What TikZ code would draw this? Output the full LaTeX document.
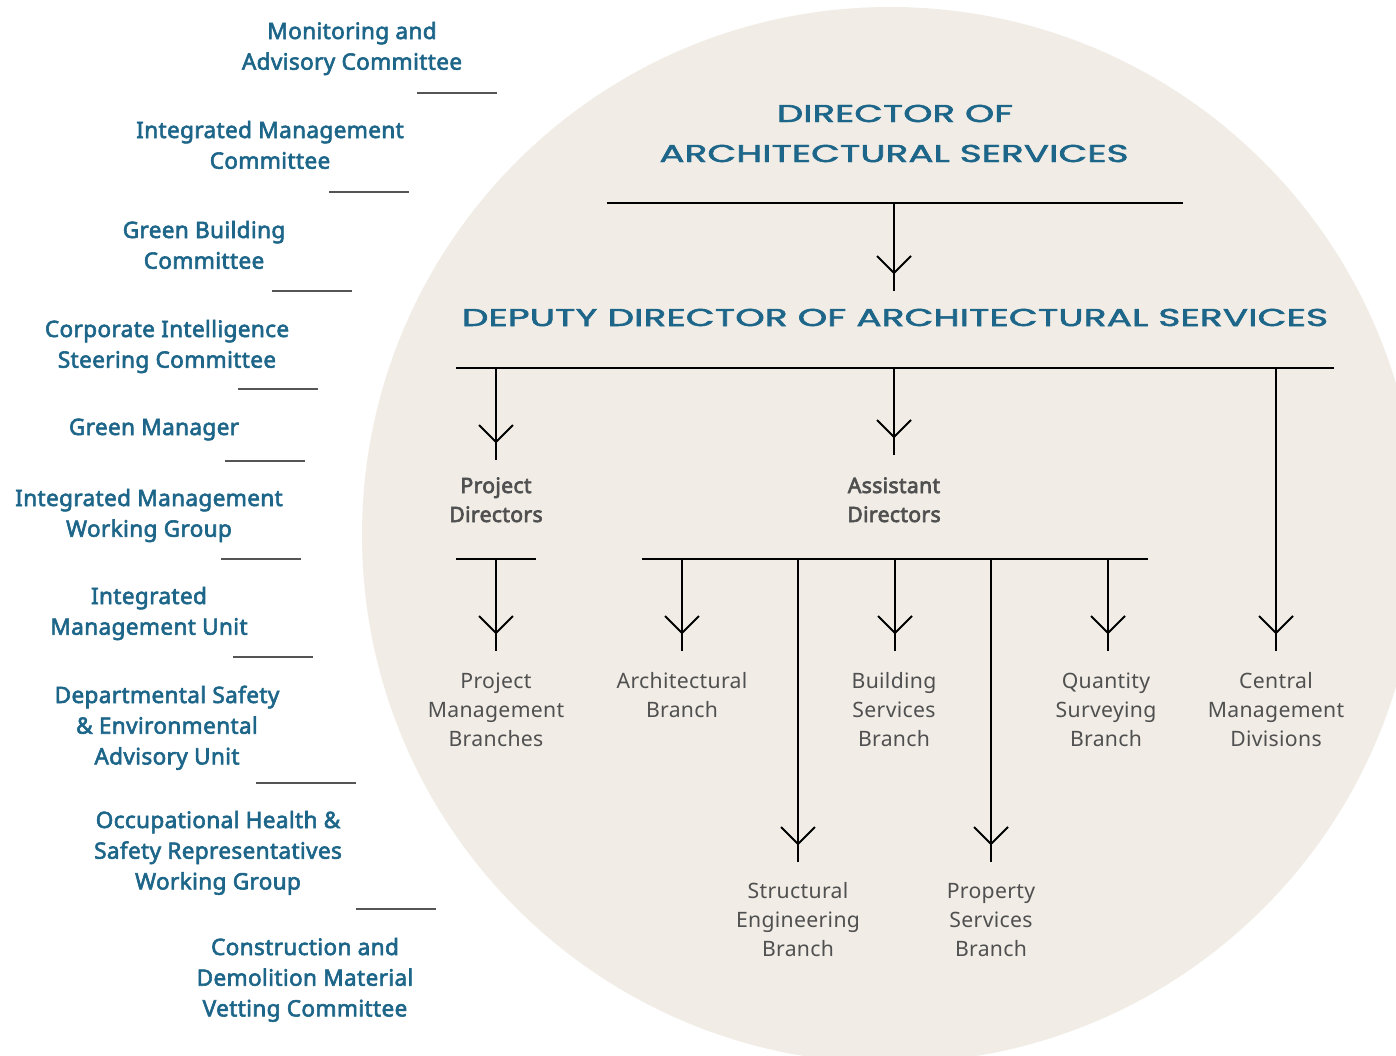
\documentclass[tikz,border=0pt]{standalone}
\usepackage{fontspec}
\usepackage{graphicx}
\usetikzlibrary{decorations.markings}
\setmainfont{Noto Sans}
\newfontfamily\medfont[FakeBold=2.6,LetterSpace=1.5]{Noto Sans}
\newfontfamily\boldfont[FakeBold=3.2,LetterSpace=1.5]{Noto Sans}
\newfontfamily\greyfont[LetterSpace=1.5]{Noto Sans}
\newfontfamily\titlefont[LetterSpace=0.5,FakeBold=2]{Poppins}
\definecolor{tealc}{HTML}{1D6689}
\definecolor{greyc}{HTML}{505050}
\definecolor{circfill}{HTML}{F1EDE6}
\definecolor{rulec}{HTML}{555555}
\newcommand{\ttl}[2]{\resizebox{#1}{8.6pt}{\titlefont #2}}
\newcommand{\ml}[1]{\begin{tabular}[t]{@{}c@{}}#1\end{tabular}}
\begin{document}
\begin{tikzpicture}[x=0.5pt,y=-0.5pt,
 side/.style={anchor=base,inner sep=0pt,text=tealc,font=\medfont\fontsize{11.3}{15.35}\selectfont},
 unitlab/.style={anchor=base,inner sep=0pt,text=greyc,font=\greyfont\fontsize{10.6}{14.5}\selectfont},
 midlab/.style={anchor=base,inner sep=0pt,text=greyc,font=\boldfont\fontsize{10.6}{14.5}\selectfont},
 headlab/.style={anchor=base,inner sep=0pt,text=tealc},
 bar/.style={line width=1pt,black},
 sideline/.style={line width=0.8pt,rulec},
 flow/.style={line width=1pt,black,postaction={decorate},
   decoration={markings,mark=at position -9pt with {\draw[line width=1pt,black] (-8.5pt,-8.5pt)--(0pt,0pt)--(-8.5pt,8.5pt);}}}
]
\clip (0,0) rectangle (1396,1055);
\fill[white] (0,0) rectangle (1396,1055);
\fill[circfill] (890,535) circle[radius=264pt];

% headings
\node[headlab] (dir1) at (895,122) {\ttl{118pt}{DIRECTOR OF}};
\node[headlab] (dir2) at (894,162) {\ttl{234.5pt}{ARCHITECTURAL SERVICES}};
\node[headlab] (dep) at (895,326) {\ttl{433pt}{DEPUTY DIRECTOR OF ARCHITECTURAL SERVICES}};

% mid labels
\node[midlab] (pd) at (496,493) {\ml{Project\\Directors}};
\node[midlab] (ad) at (894,493) {\ml{Assistant\\Directors}};

% unit labels
\node[unitlab] (pmb) at (496,688) {\ml{Project\\Management\\Branches}};
\node[unitlab] (arch) at (682,688) {\ml{Architectural\\Branch}};
\node[unitlab] (bsb) at (894,688) {\ml{Building\\Services\\Branch}};
\node[unitlab] (qsb) at (1106,688) {\ml{Quantity\\Surveying\\Branch}};
\node[unitlab] (cmd) at (1276,688) {\ml{Central\\Management\\Divisions}};
\node[unitlab] (seb) at (798,898) {\ml{Structural\\Engineering\\Branch}};
\node[unitlab] (psb) at (991,898) {\ml{Property\\Services\\Branch}};

% bars and coordinates
\coordinate (dirL) at (607,203); \coordinate (dirR) at (1183,203); \coordinate (dirM) at (894,203);
\coordinate (depIn) at (894,291);
\draw[bar] (dirL) -- (dirR);
\draw[flow] (dirM) -- (depIn);

\coordinate (depL) at (456,368); \coordinate (depR) at (1334,368);
\draw[bar] (depL) -- (depR);
\coordinate (pdIn) at (496,460); \coordinate (adIn) at (894,455); \coordinate (cmdIn) at (1276,651);
\draw[flow] (pdIn |- depL) -- (pdIn);
\draw[flow] (adIn |- depL) -- (adIn);
\draw[flow] (cmdIn |- depL) -- (cmdIn);

\coordinate (pdL) at (456,559); \coordinate (pdR) at (536,559);
\draw[bar] (pdL) -- (pdR);
\coordinate (pmbIn) at (496,651);
\draw[flow] (pmbIn |- pdL) -- (pmbIn);

\coordinate (adL) at (642,559); \coordinate (adR) at (1148,559);
\draw[bar] (adL) -- (adR);
\coordinate (archIn) at (682,651); \coordinate (bsbIn) at (895,651); \coordinate (qsbIn) at (1108,651);
\coordinate (sebIn) at (798,862); \coordinate (psbIn) at (991,862);
\foreach \c in {archIn,bsbIn,qsbIn,sebIn,psbIn}{\draw[flow] (\c |- adL) -- (\c);}

% side committees
\node[side] (s1) at (352,39) {\ml{Monitoring and\\Advisory Committee}};
\node[side] (s2) at (270,138) {\ml{Integrated Management\\Committee}};
\node[side] (s3) at (204,238) {\ml{Green Building\\Committee}};
\node[side] (s4) at (167,337) {\ml{Corporate Intelligence\\Steering Committee}};
\node[side] (s5) at (154,435) {\ml{Green Manager}};
\node[side] (s6) at (149,506) {\ml{Integrated Management\\Working Group}};
\node[side] (s7) at (149,604) {\ml{Integrated\\Management Unit}};
\node[side] (s8) at (167,703) {\ml{Departmental Safety\\\& Environmental\\Advisory Unit}};
\node[side] (s9) at (218,828) {\ml{Occupational Health \&\\Safety Representatives\\Working Group}};
\node[side] (s10) at (305,955) {\ml{Construction and\\Demolition Material\\Vetting Committee}};

\draw[sideline] (417,93) -- (497,93);
\draw[sideline] (329,192) -- (409,192);
\draw[sideline] (272,291) -- (352,291);
\draw[sideline] (238,389) -- (318,389);
\draw[sideline] (225,461) -- (305,461);
\draw[sideline] (221,559) -- (301,559);
\draw[sideline] (233,657) -- (313,657);
\draw[sideline] (256,783) -- (356,783);
\draw[sideline] (356,909) -- (436,909);
\end{tikzpicture}
\end{document}
